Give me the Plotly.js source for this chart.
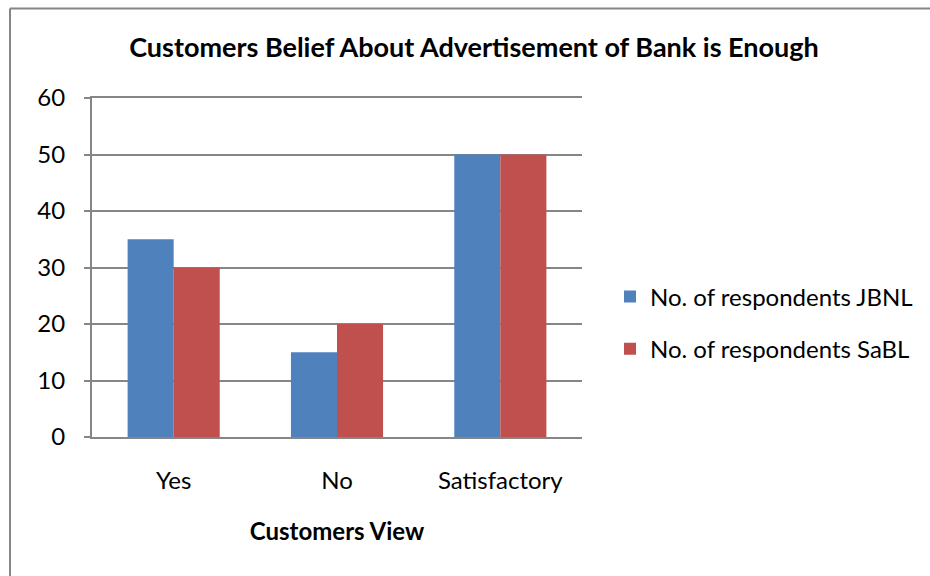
<!DOCTYPE html>
<html>
<head>
<meta charset="utf-8">
<script src="https://cdn.plot.ly/plotly-3.0.1.min.js"></script>
<style>html,body{margin:0;padding:0;background:#fff;}#chart{width:930px;height:576px;}</style>
</head>
<body>
<div id="chart"></div>
<script>
const categories = ["Yes", "No", "Satisfactory"];
const seriesNames = ["No. of respondents JBNL", "No. of respondents SaBL"];
const jbnlValues = [35, 15, 50];
const sablValues = [30, 20, 50];
const yTickValues = [0, 10, 20, 30, 40, 50, 60];

const FONT = "Lato, 'Open Sans', sans-serif";
const GRAY = "#868686";

const traces = [
  {type: "bar", x: categories, y: jbnlValues, name: seriesNames[0], legendgroup: "a",
   marker: {color: "#4F81BD", line: {width: 0}}},
  {type: "bar", x: categories, y: sablValues, name: seriesNames[1], legendgroup: "b",
   marker: {color: "#C0504D", line: {width: 0}}}
];

const L = 92, R = 582, T = 98, B = 437;
const px2x = X => (X - L) / (R - L);
const px2y = Y => (B - Y) / (B - T);

const layout = {
  width: 930, height: 576,
  margin: {l: L, r: 930 - R, t: T, b: 576 - B, pad: 0},
  paper_bgcolor: "#fff", plot_bgcolor: "#fff",
  font: {family: FONT, color: "#000", size: 24},
  title: {text: "<b>Customers Belief About Advertisement of Bank is Enough</b>",
          font: {family: FONT, size: 27, color: "#000"},
          x: 474 / 930, xanchor: "center", xref: "container",
          y: 1 - 48 / 576, yanchor: "middle", yref: "container"},
  barmode: "group", bargap: 0.436, bargroupgap: 0,
  xaxis: {type: "category", showline: true, mirror: true, linecolor: GRAY, linewidth: 2,
          ticks: "", showgrid: false, tickfont: {size: 24},
          ticklabelstandoff: 21,
          title: {text: "<b>Customers View</b>", font: {size: 24}, standoff: 30}},
  yaxis: {range: [0, 60], tickvals: yTickValues, showline: true, linecolor: GRAY, linewidth: 2,
          ticks: "outside", ticklen: 6, tickcolor: GRAY, tickwidth: 2,
          showgrid: true, gridcolor: GRAY, gridwidth: 2, zeroline: false,
          tickfont: {size: 24}, ticklabelstandoff: 14},
  showlegend: true,
  legend: {x: px2x(610), xanchor: "left", y: px2y(323), yanchor: "middle",
           font: {size: 24}, tracegroupgap: 18, itemwidth: 30, traceorder: "grouped",
           bgcolor: "rgba(0,0,0,0)"},
  shapes: [
    {type: "line", xref: "paper", yref: "paper", x0: px2x(10), x1: px2x(940), y0: px2y(8.5), y1: px2y(8.5),
     line: {color: GRAY, width: 2}},
    {type: "line", xref: "paper", yref: "paper", x0: px2x(10), x1: px2x(10), y0: px2y(8.5), y1: px2y(590),
     line: {color: GRAY, width: 2}}
  ]
};

Plotly.newPlot("chart", traces, layout, {displayModeBar: false, staticPlot: true});
</script>
</body>
</html>
